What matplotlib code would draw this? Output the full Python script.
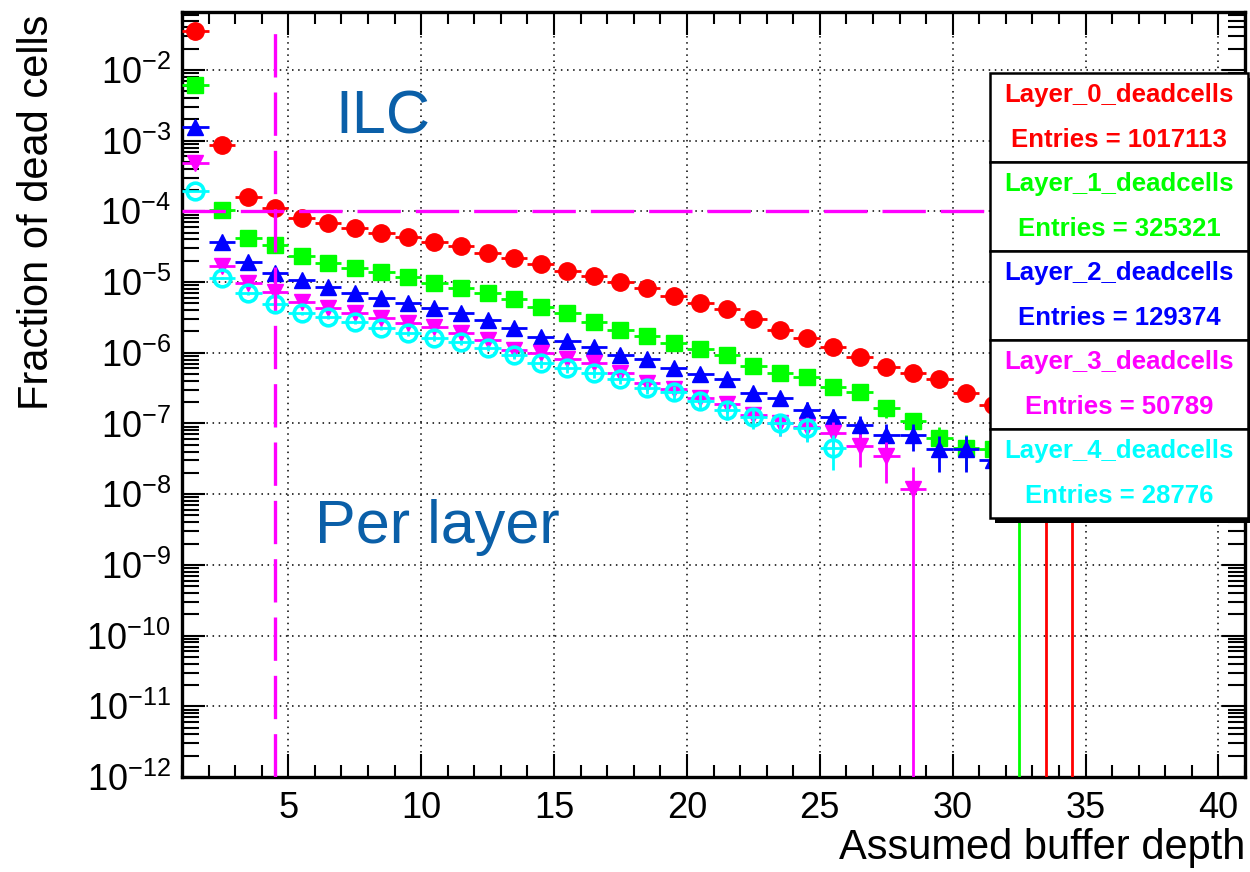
import numpy as np
import matplotlib
matplotlib.use('Agg')
import matplotlib.pyplot as plt
from matplotlib.patches import Rectangle
from matplotlib.ticker import LogLocator, MultipleLocator, NullFormatter

plt.rcParams['font.family'] = ['Liberation Sans', 'DejaVu Sans']
plt.rcParams['mathtext.fontset'] = 'custom'
plt.rcParams['mathtext.rm'] = 'Liberation Sans'
plt.rcParams['mathtext.it'] = 'Liberation Sans:italic'
plt.rcParams['mathtext.bf'] = 'Liberation Sans:bold'

# histogram bins: width 1, first bin starts at depth 1
bin_centres = np.arange(1.5, 35.0, 1.0)

# fraction of dead cells per bin
layer0 = [3.5e-2, 8.7e-4, 1.6e-4, 1.1e-4, 8.1e-5, 6.9e-5, 5.8e-5, 4.9e-5, 4.4e-5, 3.7e-5,
          3.2e-5, 2.6e-5, 2.2e-5, 1.8e-5, 1.45e-5, 1.23e-5, 1.0e-5, 8.3e-6, 6.3e-6, 5.0e-6,
          4.2e-6, 3.0e-6, 2.1e-6, 1.6e-6, 1.2e-6, 8.7e-7, 6.2e-7, 5.1e-7, 4.2e-7, 2.7e-7,
          1.8e-7, 3.3e-8, 1.2e-8, 1.2e-8]
layer1 = [6.2e-3, 1.05e-4, 4.2e-5, 3.3e-5, 2.3e-5, 1.86e-5, 1.6e-5, 1.38e-5, 1.17e-5, 9.8e-6,
          8.3e-6, 7.1e-6, 5.8e-6, 4.5e-6, 3.6e-6, 2.75e-6, 2.1e-6, 1.74e-6, 1.38e-6, 1.12e-6,
          9.3e-7, 6.5e-7, 5.2e-7, 4.6e-7, 3.3e-7, 2.8e-7, 1.66e-7, 1.07e-7, 6.2e-8, 4.5e-8,
          4.3e-8, 1.2e-8]
layer2 = [1.55e-3, 3.7e-5, 1.95e-5, 1.35e-5, 1.07e-5, 8.5e-6, 7.1e-6, 5.9e-6, 5.0e-6, 4.3e-6,
          3.6e-6, 2.9e-6, 2.25e-6, 1.66e-6, 1.48e-6, 1.2e-6, 9.3e-7, 8.1e-7, 6.0e-7, 5.0e-7,
          4.3e-7, 2.7e-7, 2.3e-7, 1.55e-7, 1.23e-7, 9.5e-8, 6.9e-8, 6.9e-8, 4.3e-8, 4.3e-8,
          3.0e-8]
layer3 = [4.8e-4, 1.66e-5, 9.8e-6, 7.2e-6, 5.2e-6, 4.3e-6, 3.6e-6, 3.1e-6, 2.6e-6, 2.35e-6,
          1.9e-6, 1.5e-6, 1.1e-6, 1.0e-6, 8.1e-7, 7.1e-7, 5.2e-7, 3.7e-7, 3.1e-7, 2.3e-7,
          1.9e-7, 1.32e-7, 1.02e-7, 8.9e-8, 7.4e-8, 4.8e-8, 3.5e-8, 1.2e-8]
layer4 = [1.95e-4, 1.15e-5, 6.9e-6, 4.9e-6, 3.6e-6, 3.2e-6, 2.75e-6, 2.25e-6, 1.9e-6, 1.62e-6,
          1.41e-6, 1.17e-6, 9.3e-7, 7.1e-7, 6.0e-7, 5.2e-7, 4.3e-7, 3.2e-7, 2.8e-7, 2.1e-7,
          1.55e-7, 1.23e-7, 1.02e-7, 8.7e-8, 4.5e-8]

layer_names = ['Layer_0_deadcells', 'Layer_1_deadcells', 'Layer_2_deadcells',
               'Layer_3_deadcells', 'Layer_4_deadcells']
layer_entries = [1017113, 325321, 129374, 50789, 28776]

# weight of a single entry (the bins with one entry have error bars down to zero)
one_entry = 1.2e-8

# requirement lines
max_dead_fraction = 1e-4
chosen_depth = 4.5

# ROOT-like styles
colors = ['#ff0000', '#00ff00', '#0000ff', '#ff00ff', '#00ffff']
markers = ['o', 's', '^', 'v', 'o']
msizes = [12.5, 11, 12, 12, 12]

W, H = 1250, 872
fig = plt.figure(figsize=(W / 100, H / 100), dpi=100)
ax = fig.add_axes([182 / W, (H - 777) / H, (1245 - 182) / W, (777 - 12) / H])
ax.set_yscale('log')

layers = [layer0, layer1, layer2, layer3, layer4]
for i, vals in enumerate(layers):
    vals = np.array(vals)
    x = bin_centres[:len(vals)]
    err = np.sqrt(vals * one_entry)
    filled = i != 4
    ax.errorbar(x, vals, yerr=err, xerr=0.5, fmt=markers[i], color=colors[i],
                ms=msizes[i], mfc=colors[i] if filled else 'none', mec=colors[i],
                mew=1 if filled else 2.6, elinewidth=2.0, capsize=0, zorder=3 + i)

ax.axhline(max_dead_fraction, color='#ff00ff', lw=2.4, dashes=(13, 4.5), zorder=10)
ax.vlines(chosen_depth, 1e-12, layer0[0], color='#ff00ff', lw=2.4,
          linestyles=[(0, (13, 4.5))], zorder=10)

ax.set_xlim(1, 41)
ax.set_ylim(1e-12, 0.066)

ax.xaxis.set_major_locator(MultipleLocator(5))
ax.xaxis.set_minor_locator(MultipleLocator(1))
ax.yaxis.set_major_locator(LogLocator(base=10, numticks=100))
ax.yaxis.set_minor_locator(LogLocator(base=10, subs=np.arange(2, 10), numticks=100))
ax.yaxis.set_minor_formatter(NullFormatter())

ax.tick_params(which='both', direction='in', top=True, right=True, width=1.5, colors='black')
ax.tick_params(axis='both', which='major', length=16.5, labelsize=26, pad=8)
ax.tick_params(axis='x', which='minor', length=8.5)
ax.tick_params(axis='y', which='minor', length=12)
ax.tick_params(axis='x', which='major', pad=10)
for sp in ax.spines.values():
    sp.set_linewidth(2.4)

ax.grid(True, which='major', color='black', linestyle=(0, (1, 3)), linewidth=1.1)
ax.set_axisbelow(True)

# axis titles, ROOT style (aligned to the far end of the axis)
fig.text(37 / W, 1 - 212 / H, 'Fraction of dead cells', rotation=90,
         ha='center', va='center', fontsize=30)
fig.text(1245 / W, 1 - 848 / H, 'Assumed buffer depth', ha='right', va='center', fontsize=30)

# annotations
fig.text(335 / W, 1 - 133 / H, 'ILC', color='#0a5fa8', fontsize=44, ha='left', va='baseline')
fig.text(315 / W, 1 - 543 / H, 'Per layer', color='#0a5fa8', fontsize=44, ha='left', va='baseline')

# stacked stat boxes
box_left, box_right, box_top, box_h = 990, 1248, 73, 89
for i, (name, n) in enumerate(zip(layer_names, layer_entries)):
    top = box_top + i * box_h
    bottom = top + box_h
    shadow = Rectangle(((box_left + 5) / W, 1 - (bottom + 5) / H), (box_right - box_left) / W,
                       box_h / H, transform=fig.transFigure, facecolor='black',
                       edgecolor='none', zorder=20)
    box = Rectangle((box_left / W, 1 - bottom / H), (box_right - box_left) / W, box_h / H,
                    transform=fig.transFigure, facecolor='white', edgecolor='black',
                    lw=1.8, zorder=21)
    fig.add_artist(shadow)
    fig.add_artist(box)
    cx = (box_left + box_right) / 2 / W
    fig.text(cx, 1 - (top + 22) / H, name, color=colors[i], fontsize=18.5,
             fontweight='bold', ha='center', va='center', zorder=22)
    fig.text(cx, 1 - (top + 67) / H, f'Entries = {n}', color=colors[i], fontsize=18.5,
             fontweight='bold', ha='center', va='center', zorder=22)

fig.savefig('out.png', dpi=100)
